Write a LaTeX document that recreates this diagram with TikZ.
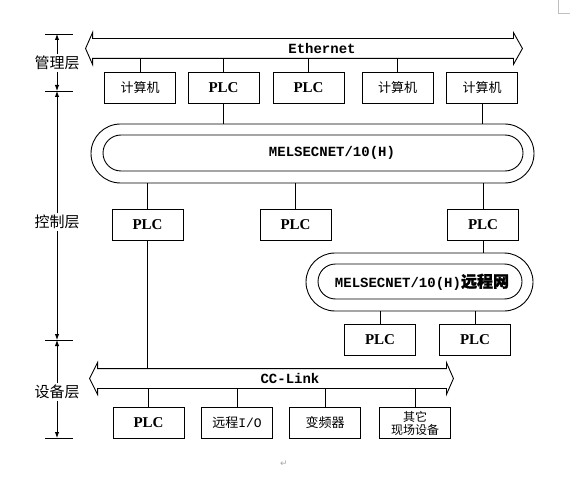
\documentclass[tikz,border=0pt]{standalone}
\usepackage{fontspec}
\setmainfont{Liberation Serif}
\setmonofont{Liberation Mono}
\newfontfamily\cjk{Noto Sans CJK SC}
\newfontfamily\cjkbf[FakeBold=1.6]{Noto Sans CJK SC}
\newfontfamily\dejavu{DejaVu Sans}
\usetikzlibrary{arrows.meta,positioning,shapes.misc,calc}
\tikzset{
 box/.style={draw,align=center,minimum width=71pt,minimum height=31pt,inner sep=1pt,
             font=\fontsize{13}{14}\selectfont\cjk},
 plcbox/.style={box,font=\fontsize{15}{16}\selectfont\bfseries},
 busbody/.style={inner sep=0pt,minimum height=19pt},
 ring/.style={draw,rounded rectangle,inner sep=0pt},
 layer/.style={fill=white,inner sep=1.5pt,font=\fontsize{15}{16}\selectfont\cjk},
 dim/.style={-{Latex[length=6pt,width=4.5pt]}},
 netlabel/.style={font=\fontsize{14}{16}\selectfont\ttfamily\bfseries}
}

\begin{document}
\begin{tikzpicture}[x=1pt,y=-1pt,line width=0.9pt]
\useasboundingbox (0,0) rectangle (570,481);

% Ethernet bus
\node[busbody,minimum width=420pt] (eth) at (303,48.5) {};
\draw (eth.north west) -- (eth.north east) -- ++(0pt,6pt) -- ($(eth.east)+(9pt,0pt)$)
  -- ($(eth.south east)+(0pt,-6pt)$) -- (eth.south east) -- (eth.south west)
  -- ++(0pt,-6pt) -- ($(eth.west)+(-7pt,0pt)$) -- ($(eth.north west)+(0pt,6pt)$) -- cycle;
\node[netlabel] (ethtext) at (322,48.5) {Ethernet};

% management level
\node[box] (pc1) at (140,87.5) {计算机};
\node[plcbox] (plc1) at (223.5,87.5) {PLC};
\node[plcbox] (plc2) at (308.5,87.5) {PLC};
\node[box] (pc2) at (397.5,87.5) {计算机};
\node[box] (pc3) at (482,87.5) {计算机};
\foreach \n in {pc1,plc1,plc2,pc2}
  \draw (\n.north) -- (\n.north |- eth.south);

% MELSECNET ring
\node[ring,minimum width=443pt,minimum height=59pt] (mnet) at (312.5,153.5) {};
\node[ring,minimum width=420pt,minimum height=36pt] (mnetin) at (313,153) {};
\node[netlabel] (mnettext) at (332,153) {MELSECNET/10(H)};
\foreach \n in {plc1,pc3}
  \draw (\n.south) -- (\n.south |- mnet.north);

% control level
\node[plcbox] (ctl1) at (147.5,224.5) {PLC};
\node[plcbox] (ctl2) at (295.5,224.5) {PLC};
\node[plcbox] (ctl3) at (483,224.5) {PLC};
\foreach \n in {ctl1,ctl2,ctl3}
  \draw (mnet.south -| \n.north) -- (\n.north);

% remote ring
\node[ring,minimum width=227pt,minimum height=58pt] (rnet) at (419.5,282) {};
\node[ring,minimum width=204pt,minimum height=35pt] (rnetin) at (420,281.5) {};
\node[netlabel] (rnettext) at (422,282) {MELSECNET/10(H)\fontsize{16}{16}\selectfont\cjkbf 远程网};
\draw (ctl3.south) -- (ctl3.south |- rnet.north);
\node[plcbox] (rp1) at (380,340) {PLC};
\node[plcbox] (rp2) at (475,340) {PLC};
\foreach \n in {rp1,rp2}
  \draw (rnet.south -| \n.north) -- (\n.north);

% CC-Link bus
\node[busbody,minimum width=348pt] (cc) at (272,378.5) {};
\draw (cc.north west) -- (cc.north east) -- ++(0pt,6pt) -- ($(cc.east)+(7pt,0pt)$)
  -- ($(cc.south east)+(0pt,-6pt)$) -- (cc.south east) -- (cc.south west)
  -- ++(0pt,-6pt) -- ($(cc.west)+(-8pt,0pt)$) -- ($(cc.north west)+(0pt,6pt)$) -- cycle;
\node[netlabel] (cctext) at (290,378.5) {CC-Link};
\draw (ctl1.south) -- (ctl1.south |- cc.north);

% device level
\node[plcbox] (dev1) at (148.5,423) {PLC};
\node[box] (dev2) at (237,423) {远程{\ttfamily I/O}};
\node[box] (dev3) at (325,423) {变频器};
\node[box,font=\fontsize{12}{13}\selectfont\cjk] (dev4) at (415,423) {其它\\现场设备};
\foreach \n in {dev1,dev2,dev3,dev4}
  \draw (\n.north) -- (\n.north |- cc.south);

% layer scale
\coordinate (t0) at (57,34);
\coordinate (t1) at (57,91);
\coordinate (t2) at (57,340);
\coordinate (t3) at (57,438);
\foreach \t in {t0,t1,t2,t3}
  \draw ([xshift=-12pt]\t) -- ([xshift=16pt]\t);
\node[layer] (mgmt) at (57,63) {管理层};
\node[layer] (ctrl) at (57,222) {控制层};
\node[layer] (field) at (57,392) {设备层};
\draw[dim] (mgmt) -- (t0);
\draw[dim] (mgmt) -- (t1);
\draw[dim] (ctrl) -- (t1);
\draw[dim] (ctrl) -- (t2);
\draw[dim] (field) -- (t2);
\draw[dim] (field) -- (t3);

% page marks
\draw[gray!50,line width=0.6pt] (558,0) -- (558,13) -- (570,13);
\node[text=gray!70,font=\fontsize{9}{9}\selectfont\dejavu] (mark) at (284,464) {↵};
\end{tikzpicture}
\end{document}
